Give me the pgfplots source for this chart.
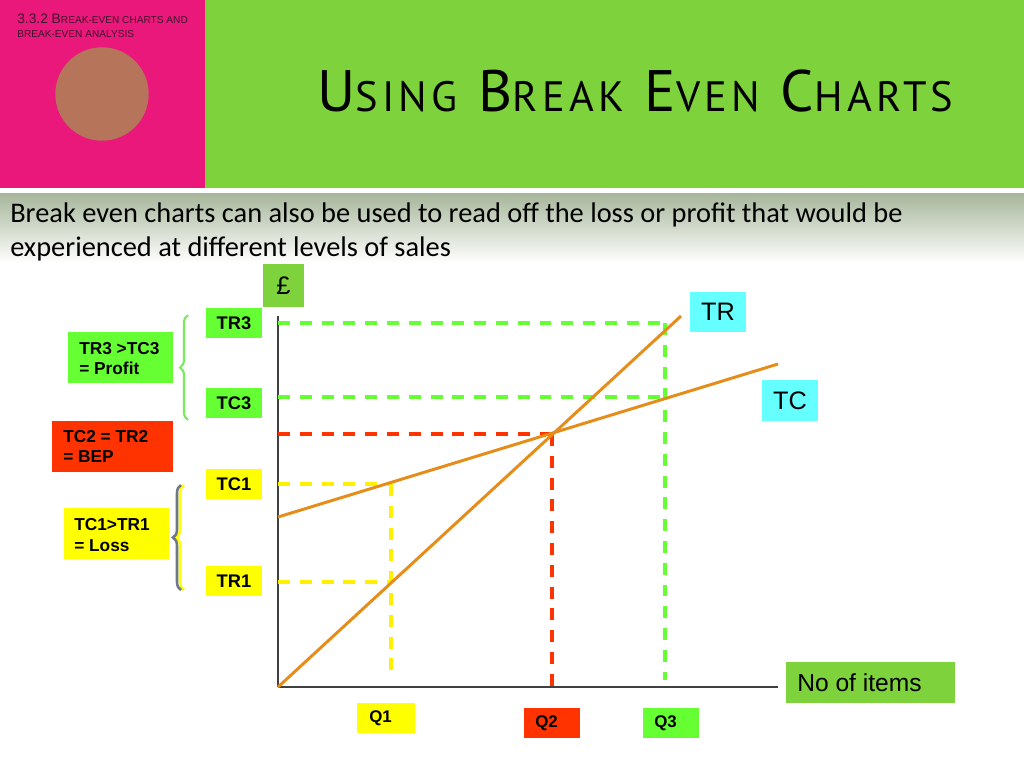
\documentclass[border=0pt]{standalone}
\usepackage{pgfplots}
\pgfplotsset{compat=1.18}
\usepackage{fontspec}
\setmainfont{Liberation Sans}
\newfontfamily\calib{Carlito}
\newfontfamily\titlefont[LetterSpace=10]{PT Sans}
\usetikzlibrary{decorations.pathreplacing}
\definecolor{pinkbg}{RGB}{233,24,122}
\definecolor{hdrgreen}{RGB}{126,211,60}
\definecolor{circ}{RGB}{182,116,90}
\definecolor{bandtop}{RGB}{166,182,154}
\definecolor{lgreen}{RGB}{102,255,51}
\definecolor{bred}{RGB}{255,51,0}
\definecolor{byellow}{RGB}{255,255,0}
\definecolor{bcyan}{RGB}{102,255,255}
\definecolor{orng}{RGB}{230,140,25}
\definecolor{hdrtext}{RGB}{60,20,45}
\definecolor{dashyellow}{RGB}{255,240,0}
\definecolor{bracegray}{RGB}{110,120,135}
\definecolor{bracegreen}{RGB}{120,235,90}
\newcommand\T[2]{{\fontsize{41.6}{44}\selectfont #1}{\fontsize{30.2}{32}\selectfont #2}}
\begin{document}
\begin{tikzpicture}[x=0.25mm,y=-0.25mm,
  lbl/.style={font=\bfseries\fontsize{13}{15}\selectfont, inner sep=0},
  qlbl/.style={font=\bfseries\fontsize{12}{14}\selectfont, inner sep=0, anchor=west},
  mlbl/.style={font=\bfseries\fontsize{12.3}{14}\selectfont, inner sep=0, anchor=base west},
  big/.style={font=\fontsize{18}{20}\selectfont, inner sep=0}]
\path[use as bounding box, fill=white] (0,0) rectangle (1024,768);
% header
\fill[pinkbg] (0,0) rectangle (205,188);
\fill[hdrgreen] (205,0) rectangle (1024,188);
\fill[circ] (102,94) circle (46.7);
\shade[top color=bandtop, bottom color=white] (0,193) rectangle (1024,263);
\node[anchor=base west, inner sep=0, text=hdrtext] at (17,23)
  {\fontsize{9.8}{10}\selectfont 3.3.2 B\fontsize{7.2}{8}\selectfont REAK-EVEN CHARTS AND};
\node[anchor=base west, inner sep=0, text=hdrtext] at (17,37)
  {\fontsize{7.2}{8}\selectfont BREAK-EVEN ANALYSIS};
\node[anchor=base west, inner sep=0] at (317,111)
  {\titlefont\T{U}{SING}\hspace{5.2mm}\T{B}{REAK}\hspace{5.2mm}\T{E}{VEN}\hspace{5.2mm}\T{C}{HARTS}};
\node[anchor=base west, inner sep=0, font=\calib\fontsize{20.2}{22}\selectfont] at (10,222)
  {Break even charts can also be used to read off the loss or profit that would be};
\node[anchor=base west, inner sep=0, font=\calib\fontsize{20.2}{22}\selectfont] at (10,256)
  {experienced at different levels of sales};
% chart
\begin{axis}[at={(69.5mm,-171.75mm)}, anchor=origin, scale only axis,
  width=125mm, height=92.75mm, xmin=0, xmax=500, ymin=0, ymax=371,
  enlargelimits=false, axis x line=bottom, axis y line=left,
  axis line style={-, draw=black!75, line width=1pt},
  xtick=\empty, ytick=\empty, clip=false]
\addplot[dashyellow, line width=2.35pt, dash pattern=on 8.5pt off 7pt] coordinates {(0,203) (113,203)};
\addplot[dashyellow, line width=2.35pt, dash pattern=on 8.5pt off 7pt] coordinates {(0,105) (113,105)};
\addplot[dashyellow, line width=2.35pt, dash pattern=on 8.5pt off 7pt] coordinates {(113,203) (113,10)};
\addplot[bred, line width=2.35pt, dash pattern=on 8.5pt off 7pt] coordinates {(0,253) (274,253)};
\addplot[bred, line width=2.35pt, dash pattern=on 8.5pt off 7pt] coordinates {(274,253) (274,0)};
\addplot[lgreen, line width=2.35pt, dash pattern=on 8.5pt off 7pt] coordinates {(0,364) (387,364)};
\addplot[lgreen, line width=2.35pt, dash pattern=on 8.5pt off 7pt] coordinates {(0,290) (387,290)};
\addplot[lgreen, line width=2.35pt, dash pattern=on 8.5pt off 7pt] coordinates {(387,364) (387,7)};
\addplot[orng, line width=2.1pt] coordinates {(0,0) (403,371)};
\addplot[orng, line width=2.1pt] coordinates {(0,170) (500,323)};
\end{axis}
% boxes on the axis
\fill[hdrgreen] (263,264) rectangle (304,307);
\node[big] at (283.5,285.5) {£};
\fill[lgreen] (206,308) rectangle (262,338); \node[lbl] at (234,323) {TR3};
\fill[lgreen] (206,388) rectangle (262,418); \node[lbl] at (234,403) {TC3};
\fill[byellow] (206,469) rectangle (262,499); \node[lbl] at (234,484) {TC1};
\fill[byellow] (206,566) rectangle (262,596); \node[lbl] at (234,581) {TR1};
\fill[lgreen] (68,332) rectangle (173,383);
\node[mlbl] at (79,354) {TR3 >TC3}; \node[mlbl] at (79,374) {= Profit};
\fill[bred] (52,421) rectangle (173,472);
\node[mlbl] at (63,442) {TC2 = TR2}; \node[mlbl] at (63,462) {= BEP};
\fill[byellow] (64,508) rectangle (169,559);
\node[mlbl] at (74,530) {TC1>TR1}; \node[mlbl] at (74,551) {= Loss};
% braces
\draw[decorate, decoration={brace, amplitude=2mm}, bracegreen, line width=1.5pt] (188,420) -- (188,315);
\draw[decorate, decoration={brace, amplitude=2mm}, byellow, line width=1.8pt] (184,590) -- (184,485);
\draw[decorate, decoration={brace, amplitude=2mm}, bracegray, line width=1.8pt] (181,590) -- (181,485);
% Q labels
\fill[byellow] (357,703) rectangle (415,733); \node[qlbl] at (369,718) {Q1};
\fill[bred] (524,708) rectangle (580,738); \node[qlbl] at (535,723) {Q2};
\fill[lgreen] (643,708) rectangle (699,738); \node[qlbl] at (654,723) {Q3};
% TR TC No of items
\fill[bcyan] (690,292) rectangle (746,332); \node[big] at (718,312) {TR};
\fill[bcyan] (762,380) rectangle (818,421); \node[big] at (790,400.5) {TC};
\fill[hdrgreen] (786,662) rectangle (955,703);
\node[big, anchor=west, font=\fontsize{17.5}{20}\selectfont] at (797,683) {No of items};
\end{tikzpicture}
\end{document}
